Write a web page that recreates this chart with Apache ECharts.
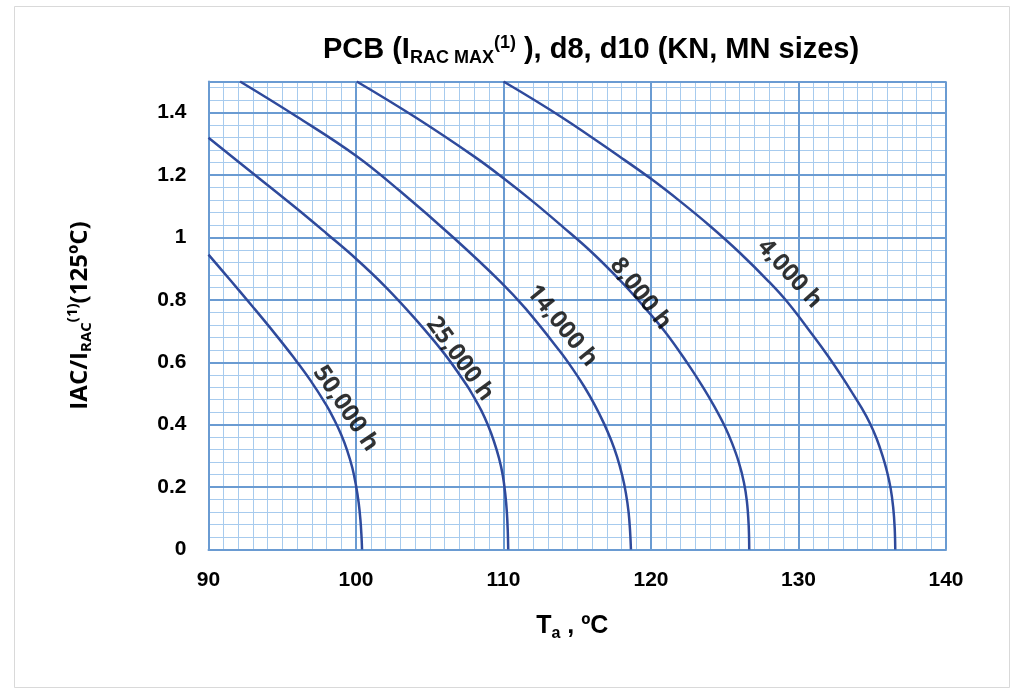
<!DOCTYPE html>
<html><head><meta charset="utf-8">
<script src="https://cdn.jsdelivr.net/npm/echarts@6/dist/echarts.min.js"></script>
<style>html,body{margin:0;padding:0;background:#fff}#c{width:1024px;height:692px}</style>
</head><body><div id="c"></div>
<script>
// ---- data ----
const temp4k  = [110, 114, 118, 120, 122, 124, 126, 128, 129.3, 131, 132, 133, 133.7, 134.3, 134.85, 135.3, 135.7, 136.0, 136.25, 136.42, 136.52, 136.56];
const ratio4k = [1.5, 1.384, 1.255, 1.188, 1.115, 1.037, 0.952, 0.858, 0.79, 0.685, 0.62, 0.55, 0.498, 0.452, 0.404, 0.355, 0.30, 0.25, 0.195, 0.135, 0.07, 0];
const temp8k  = [100.05, 104, 108, 110, 112, 114, 116, 118, 119.3, 121, 122.5, 123.5, 124.3, 125.0, 125.5, 125.95, 126.3, 126.5, 126.62, 126.66];
const ratio8k = [1.5, 1.386, 1.26, 1.19, 1.115, 1.035, 0.952, 0.858, 0.79, 0.695, 0.595, 0.522, 0.458, 0.395, 0.34, 0.28, 0.215, 0.155, 0.08, 0];
const temp14k  = [92.14, 96, 100, 103, 106.6, 109.8, 111.5, 113.8, 114.7, 115.5, 116.2, 116.8, 117.3, 117.7, 118.05, 118.3, 118.48, 118.58, 118.64];
const ratio14k = [1.5, 1.387, 1.262, 1.148, 1.0, 0.858, 0.772, 0.637, 0.578, 0.52, 0.462, 0.405, 0.35, 0.297, 0.237, 0.18, 0.12, 0.06, 0];
const temp25k  = [90, 93, 96, 98, 100, 102, 104, 106, 107.5, 108, 108.5, 108.95, 109.35, 109.7, 109.95, 110.12, 110.23, 110.29, 110.32];
const ratio25k = [1.32, 1.206, 1.092, 1.013, 0.932, 0.842, 0.74, 0.627, 0.527, 0.488, 0.445, 0.398, 0.347, 0.292, 0.238, 0.178, 0.118, 0.058, 0];
const temp50k  = [90, 91.5, 93, 94.5, 95.7, 96.9, 98, 98.5, 99, 99.4, 99.75, 100.0, 100.18, 100.3, 100.37, 100.41];
const ratio50k = [0.945, 0.862, 0.778, 0.692, 0.62, 0.543, 0.462, 0.418, 0.368, 0.318, 0.262, 0.205, 0.15, 0.095, 0.045, 0];

const curveNames = ['4,000 h', '8,000 h', '14,000 h', '25,000 h', '50,000 h'];
const labelT     = [129.4, 119.3, 113.97, 107.05, 99.3];
const labelV     = [0.884, 0.82, 0.717, 0.611, 0.452];
const labelAngle = [-48, -52, -51, -54, -56];

const xTicks = [90, 100, 110, 120, 130, 140];
const yTicks = [0, 0.2, 0.4, 0.6, 0.8, 1, 1.2, 1.4];

// ---- styling ----
const MAJOR = '#6a9bd2', MINOR = '#a7cbee', CURVE = '#2f4a9c';
const zip = (a, b) => a.map((v, i) => [v, b[i]]);
const curves = [[temp4k, ratio4k], [temp8k, ratio8k], [temp14k, ratio14k], [temp25k, ratio25k], [temp50k, ratio50k]];

const chart = echarts.init(document.getElementById('c'), null, {renderer: 'canvas'});
const lblFont = {fontFamily: 'Liberation Sans, Arial, sans-serif', fontWeight: 'bold', fontSize: 21, color: '#000'};

const option = {
  animation: false,
  backgroundColor: '#fff',
  title: {
    text: 'PCB (I{sub|RAC MAX}{sup|(1)} ), d8, d10 (KN, MN sizes)',
    left: 586, top: 28, textAlign: 'center',
    textStyle: {
      fontFamily: 'Liberation Sans, Arial, sans-serif', fontWeight: 'bold', fontSize: 29, color: '#000',
      rich: {
        sub: {fontFamily: 'Liberation Sans, Arial', fontWeight: 'bold', fontSize: 18, color: '#000', padding: [16, 0, 0, 0]},
        sup: {fontFamily: 'Liberation Sans, Arial', fontWeight: 'bold', fontSize: 18, color: '#000', padding: [0, 0, 14, 0]}
      }
    }
  },
  graphic: [{type: 'rect', shape: {x: 14.5, y: 6.5, width: 995, height: 681}, style: {fill: 'none', stroke: '#d9d9d9', lineWidth: 1}, silent: true}],
  grid: {left: 208.5, top: 81.5, width: 737.5, height: 468, containLabel: false, outerBoundsMode: 'none'},
  xAxis: [
    {type: 'value', min: 90, max: 140, interval: 1, position: 'bottom', z: 1,
     axisLine: {show: false}, axisTick: {show: false}, axisLabel: {show: false},
     splitLine: {show: true, lineStyle: {color: MINOR, width: 1}}},
    {type: 'value', min: 90, max: 140, interval: 10, position: 'bottom', z: 2,
     axisLine: {show: true, lineStyle: {color: MAJOR, width: 2}}, axisTick: {show: false},
     axisLabel: Object.assign({margin: 20, formatter: v => xTicks.includes(v) ? String(v) : ''}, lblFont),
     splitLine: {show: true, lineStyle: {color: MAJOR, width: 2}},
     name: 'T{sub|a} , ºC', nameLocation: 'middle', nameGap: 62,
     nameTextStyle: {fontFamily: 'Liberation Sans, Arial, sans-serif', fontWeight: 'bold', fontSize: 25, color: '#000', padding: [0, 10, 0, 0],
       rich: {sub: {fontFamily: 'Liberation Sans, Arial', fontWeight: 'bold', fontSize: 16, color: '#000', padding: [14, 0, 0, 0]}}}}
  ],
  yAxis: [
    {type: 'value', min: 0, max: 1.5, interval: 0.04, position: 'left', z: 1,
     axisLine: {show: false}, axisTick: {show: false}, axisLabel: {show: false},
     splitLine: {show: true, lineStyle: {color: MINOR, width: 1}}},
    {type: 'value', min: 0, max: 1.5, interval: 0.2, position: 'left', z: 2,
     axisLine: {show: true, lineStyle: {color: MAJOR, width: 2}}, axisTick: {show: false},
     axisLabel: Object.assign({margin: 22, showMaxLabel: false,
       formatter: v => { const t = yTicks.find(y => Math.abs(y - v) < 1e-6); return t === undefined ? '' : String(t); }}, lblFont),
     splitLine: {show: true, lineStyle: {color: MAJOR, width: 2}},
     name: 'IAC/I{sub|RAC}{sup|(1)}(125ºC)', nameLocation: 'middle', nameRotate: 90, nameGap: 114,
     nameTextStyle: {fontFamily: 'Open Sans, Liberation Sans, sans-serif', fontWeight: 'bold', fontSize: 24, color: '#000',
       rich: {
         sub: {fontFamily: 'Open Sans', fontWeight: 'bold', fontSize: 15, color: '#000', padding: [14, 0, 0, 0]},
         sup: {fontFamily: 'Open Sans', fontWeight: 'bold', fontSize: 15, color: '#000', padding: [0, 0, 14, 0]}
       }}}
  ],
  series: curves.map((c, i) => ({
    type: 'line', name: curveNames[i], xAxisIndex: 1, yAxisIndex: 1, z: 5,
    data: zip(c[0], c[1]), showSymbol: false, symbol: 'none', smooth: 0.4,
    lineStyle: {color: CURVE, width: 2.5}
  })).concat([{
    type: 'scatter', xAxisIndex: 1, yAxisIndex: 1, z: 6, symbolSize: 0, silent: true,
    data: curveNames.map((n, i) => ({name: n, value: [labelT[i], labelV[i]], label: {rotate: labelAngle[i]}})),
    label: {show: true, position: 'inside', formatter: '{b}', fontFamily: 'Open Sans, Liberation Sans, sans-serif',
      fontSize: 24, color: '#000', fontWeight: 'bold'}
  }])
};
chart.setOption(option);
</script>
</body></html>
